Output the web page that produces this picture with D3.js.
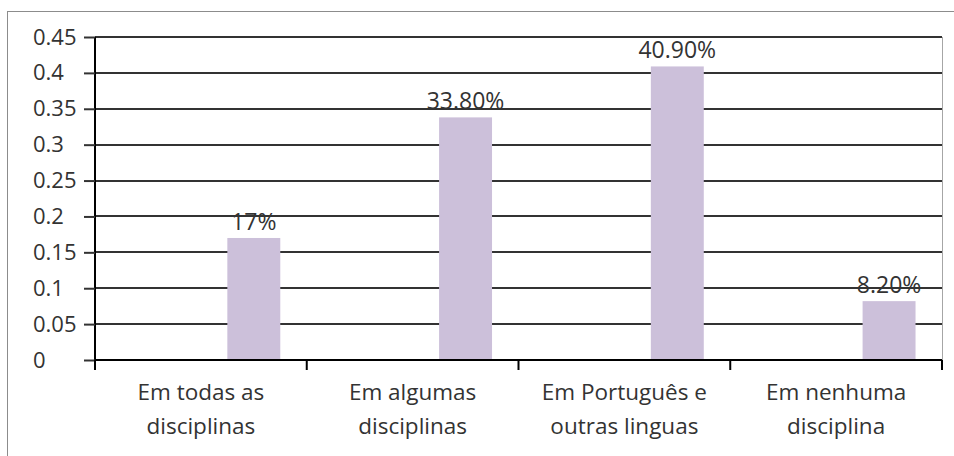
<!DOCTYPE html>
<html>
<head>
<meta charset="utf-8">
<script src="https://cdn.jsdelivr.net/npm/d3@7"></script>
<style>
	body { margin: 0; background: #fff; }
	svg { display: block; }
	text { font-family: 'Open Sans', sans-serif; fill: #333; }
</style>
</head>
<body>
<div id="chart"></div>
<script>

// categories, split into the two label lines
var categories = [ 'Em todas as disciplinas', 'Em algumas disciplinas', 'Em Português e outras linguas', 'Em nenhuma disciplina' ];
var categoryLines = [
	[ 'Em todas as', 'disciplinas' ],
	[ 'Em algumas', 'disciplinas' ],
	[ 'Em Português e', 'outras linguas' ],
	[ 'Em nenhuma', 'disciplina' ]
];
var values = [ 0.17, 0.338, 0.409, 0.082 ];
var valueLabels = [ '17%', '33.80%', '40.90%', '8.20%' ];
var yTicks = [ 0, 0.05, 0.1, 0.15, 0.2, 0.25, 0.3, 0.35, 0.4, 0.45 ];
// the source had three series slots per category, only the last one filled
var seriesSlots = [ 's1', 's2', 's3' ];

var width = 954,
	height = 456,
	padding = { top: 37, right: 12, bottom: 96, left: 95 };

var cwidth = width - padding.left - padding.right,
	cheight = height - padding.top - padding.bottom;

var svg = d3.select( '#chart' ).append( 'svg' )
	.attr( 'width', width )
	.attr( 'height', height );

// outer frame
svg.append( 'rect' )
	.attr( 'x', 7.5 )
	.attr( 'y', 11.5 )
	.attr( 'width', width + 10 )
	.attr( 'height', height + 10 )
	.attr( 'fill', '#fff' )
	.attr( 'stroke', '#8c8c8c' )
	.attr( 'stroke-width', 1 );

var guts = svg.append( 'g' ).attr( 'transform', 'translate(' + padding.left + ',' + padding.top + ')' );

var x = d3.scaleBand().domain( categories ).range( [ 0, cwidth ] ).padding( 0 );
var xs = d3.scaleBand().domain( seriesSlots ).range( [ 0, x.bandwidth() ] ).paddingInner( 0 ).paddingOuter( 0.5 );
var y = d3.scaleLinear().domain( [ 0, 0.45 ] ).range( [ cheight, 0 ] );

// right edge of plot area
guts.append( 'line' )
	.attr( 'x1', cwidth + 0.5 ).attr( 'x2', cwidth + 0.5 )
	.attr( 'y1', 0 ).attr( 'y2', cheight )
	.attr( 'stroke', '#a6a6a6' );

// gridlines
guts.append( 'g' )
	.selectAll( 'line' )
	.data( yTicks.filter( function ( d ) { return d > 0; } ) )
	.join( 'line' )
	.attr( 'x1', 0 )
	.attr( 'x2', cwidth )
	.attr( 'y1', function ( d ) { return Math.round( y( d ) ); } )
	.attr( 'y2', function ( d ) { return Math.round( y( d ) ); } )
	.attr( 'stroke', '#333' )
	.attr( 'stroke-width', 2 );

// bars
guts.append( 'g' )
	.selectAll( 'rect' )
	.data( values )
	.join( 'rect' )
	.attr( 'x', function ( d, i ) { return x( categories[i] ) + xs( 's3' ); } )
	.attr( 'width', xs.bandwidth() )
	.attr( 'y', function ( d ) { return y( d ); } )
	.attr( 'height', function ( d ) { return cheight - y( d ); } )
	.attr( 'fill', '#ccc0da' );

// value labels
guts.append( 'g' )
	.selectAll( 'text' )
	.data( values )
	.join( 'text' )
	.attr( 'x', function ( d, i ) { return x( categories[i] ) + xs( 's3' ) + xs.bandwidth() / 2; } )
	.attr( 'y', function ( d ) { return y( d ) - 8; } )
	.attr( 'text-anchor', 'middle' )
	.style( 'font-size', '23px' )
	.text( function ( d, i ) { return valueLabels[i]; } );

// y axis
var yAxis = d3.axisLeft( y )
	.tickValues( yTicks )
	.tickSize( 11 )
	.tickPadding( 4 )
	.tickFormat( function ( d ) { return String( +d.toFixed( 2 ) ); } );

var yAxisEl = guts.append( 'g' ).call( yAxis );
yAxisEl.select( '.domain' ).attr( 'stroke', '#000' ).attr( 'stroke-width', 2 ).attr( 'd', 'M0,0V' + cheight );
yAxisEl.selectAll( '.tick line' ).attr( 'stroke', '#333' ).attr( 'stroke-width', 2 );
yAxisEl.selectAll( '.tick text' )
	.attr( 'x', -62 )
	.attr( 'text-anchor', 'start' )
	.style( 'font-family', "'Open Sans', sans-serif" )
	.style( 'font-size', '22px' )
	.attr( 'fill', '#333' );

// x axis
var xTickPos = categories.map( function ( c ) { return x( c ); } ).concat( [ cwidth ] );
var xAxisEl = guts.append( 'g' ).attr( 'transform', 'translate(0,' + cheight + ')' );
xAxisEl.append( 'line' )
	.attr( 'x1', 0 ).attr( 'x2', cwidth )
	.attr( 'stroke', '#000' ).attr( 'stroke-width', 2 );
xAxisEl.selectAll( '.xtick' )
	.data( xTickPos )
	.join( 'line' )
	.attr( 'class', 'xtick' )
	.attr( 'x1', function ( d ) { return d; } )
	.attr( 'x2', function ( d ) { return d; } )
	.attr( 'y1', 0 )
	.attr( 'y2', 10 )
	.attr( 'stroke', '#000' )
	.attr( 'stroke-width', 2 );

var catLabels = xAxisEl.selectAll( '.cat' )
	.data( categories )
	.join( 'text' )
	.attr( 'class', 'cat' )
	.attr( 'text-anchor', 'middle' )
	.style( 'font-size', '22.5px' );

catLabels.selectAll( 'tspan' )
	.data( function ( d, i ) { return categoryLines[i].map( function ( l ) { return { line: l, cat: d }; } ); } )
	.join( 'tspan' )
	.attr( 'x', function ( d ) { return x( d.cat ) + x.bandwidth() / 2; } )
	.attr( 'y', function ( d, j ) { return 40 + j * 34; } )
	.text( function ( d ) { return d.line; } );

</script>
</body>
</html>
